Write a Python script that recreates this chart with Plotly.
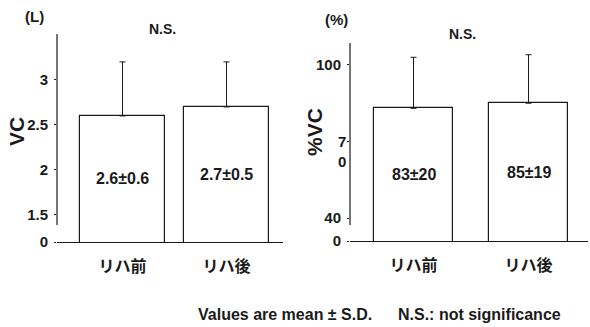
import plotly.graph_objects as go

# ---- data ----
categories = ["リハ前", "リハ後"]
vc_mean = [2.6, 2.7]
vc_sd = [0.6, 0.5]
pvc_mean = [83, 85]
pvc_sd = [20, 19]

vc_tickvals = [1.5, 2, 2.5, 3]
vc_ticktext = ["1.5", "2", "2.5", "3"]
pvc_tickvals = [40, 70, 100]
pvc_ticktext = ["40", "", "100"]
pvc_wrapped_tick = (70, "7<br>0")   # label printed wrapped in the original

# broken-axis settings (axis bottom is labelled "0")
vc_base, vc_top, vc_break = 1.2, 3.51, 1.39
pvc_base, pvc_top, pvc_break = 31, 108.6, 37.3

FONT = "Liberation Sans, Arial, Noto Sans CJK JP, sans-serif"
INK = "#1a1a1a"
W, H = 590, 327

fig = go.Figure()
xpos = list(range(len(categories)))

fig.add_trace(go.Bar(x=xpos, y=vc_mean, width=0.82,
                     marker=dict(color="white", line=dict(color=INK, width=1.2)),
                     error_y=dict(type="data", array=vc_sd, arrayminus=[0] * len(vc_sd),
                                  symmetric=False, color=INK, thickness=1, width=3),
                     xaxis="x", yaxis="y", showlegend=False, hoverinfo="skip"))
fig.add_trace(go.Bar(x=xpos, y=pvc_mean, width=0.687,
                     marker=dict(color="white", line=dict(color=INK, width=1.2)),
                     error_y=dict(type="data", array=pvc_sd, arrayminus=[0] * len(pvc_sd),
                                  symmetric=False, color=INK, thickness=1, width=3),
                     xaxis="x2", yaxis="y2", showlegend=False, hoverinfo="skip"))

tickfont = dict(family=FONT, size=15, color=INK, weight="bold")
xfont = dict(family=FONT, size=16, color=INK, weight="bold")

common_x = dict(tickvals=xpos, ticktext=categories, tickfont=xfont,
                showline=True, linecolor=INK, linewidth=1.2, ticks="",
                ticklabelstandoff=10,
                showgrid=False, zeroline=False, automargin=False, fixedrange=True)
common_y = dict(tickfont=tickfont, ticks="outside", ticklen=2, tickcolor=INK,
                ticklabelstandoff=3,
                showline=False, showgrid=False, zeroline=False, automargin=False,
                fixedrange=True)

fig.update_layout(
    width=W, height=H, margin=dict(l=0, r=0, t=0, b=0, pad=0), autosize=False,
    paper_bgcolor="white", plot_bgcolor="white", bargap=0,
    xaxis=dict(domain=[57 / W, 283 / W], range=[-0.63, 1.543], anchor="y", **common_x),
    yaxis=dict(domain=[(H - 242) / H, (H - 34) / H], range=[vc_base, vc_top],
               tickvals=[vc_base] + vc_tickvals, ticktext=["0"] + vc_ticktext,
               anchor="x", **common_y),
    xaxis2=dict(domain=[350 / W, 588 / W], range=[-0.552, 1.517], anchor="y2", **common_x),
    yaxis2=dict(domain=[(H - 241) / H, (H - 43) / H], range=[pvc_base, pvc_top],
                tickvals=[pvc_base] + pvc_tickvals, ticktext=["0"] + pvc_ticktext,
                anchor="x2", **common_y),
)

# broken y-axis lines
fig.add_shape(type="line", xref="x domain", yref="y", x0=0, x1=0, y0=vc_break, y1=vc_top,
              line=dict(color=INK, width=1.2))
fig.add_shape(type="line", xref="x2 domain", yref="y2", x0=0, x1=0, y0=pvc_break, y1=pvc_top,
              line=dict(color=INK, width=1.2))

txt = dict(family=FONT, size=16, color=INK, weight="bold")
ann = []
for i, (m, s) in enumerate(zip(vc_mean, vc_sd)):
    ann.append(dict(x=i, y=(vc_base + m) / 2, xref="x", yref="y", text=f"{m}±{s}",
                    showarrow=False, font=txt))
for i, (m, s) in enumerate(zip(pvc_mean, pvc_sd)):
    ann.append(dict(x=i, y=(pvc_base + m) / 2, xref="x2", yref="y2", text=f"{m}±{s}",
                    showarrow=False, font=txt))

# wrapped "70" tick label
ann.append(dict(x=0, y=pvc_wrapped_tick[0], xref="x2 domain", yref="y2",
                text=pvc_wrapped_tick[1], showarrow=False, xanchor="right", yanchor="middle",
                xshift=-3, yshift=-10, align="center", borderpad=0,
                font=dict(family=FONT, size=15, color=INK, weight="bold")))


def lab(xp, yp, text, size, angle=0):
    return dict(x=xp / W, y=1 - yp / H, xref="paper", yref="paper", text=text,
                showarrow=False, xanchor="center", yanchor="middle", textangle=angle,
                font=dict(family=FONT, size=size, color=INK, weight="bold"))


ann += [
    lab(34, 17, "(L)", 15),
    lab(336, 19, "(%)", 15),
    lab(162, 29, "N.S.", 14),
    lab(462, 34, "N.S.", 14),
    lab(16, 132, "VC", 21, -90),
    lab(314, 132, "%VC", 21, -90),
    lab(285, 314, "Values are mean ± S.D.", 16),
    lab(479, 314, "N.S.: not significance", 16),
]
fig.update_layout(annotations=ann)

fig.write_html("out.html", config={"displayModeBar": False},
               post_script="document.body.style.margin='0';")
